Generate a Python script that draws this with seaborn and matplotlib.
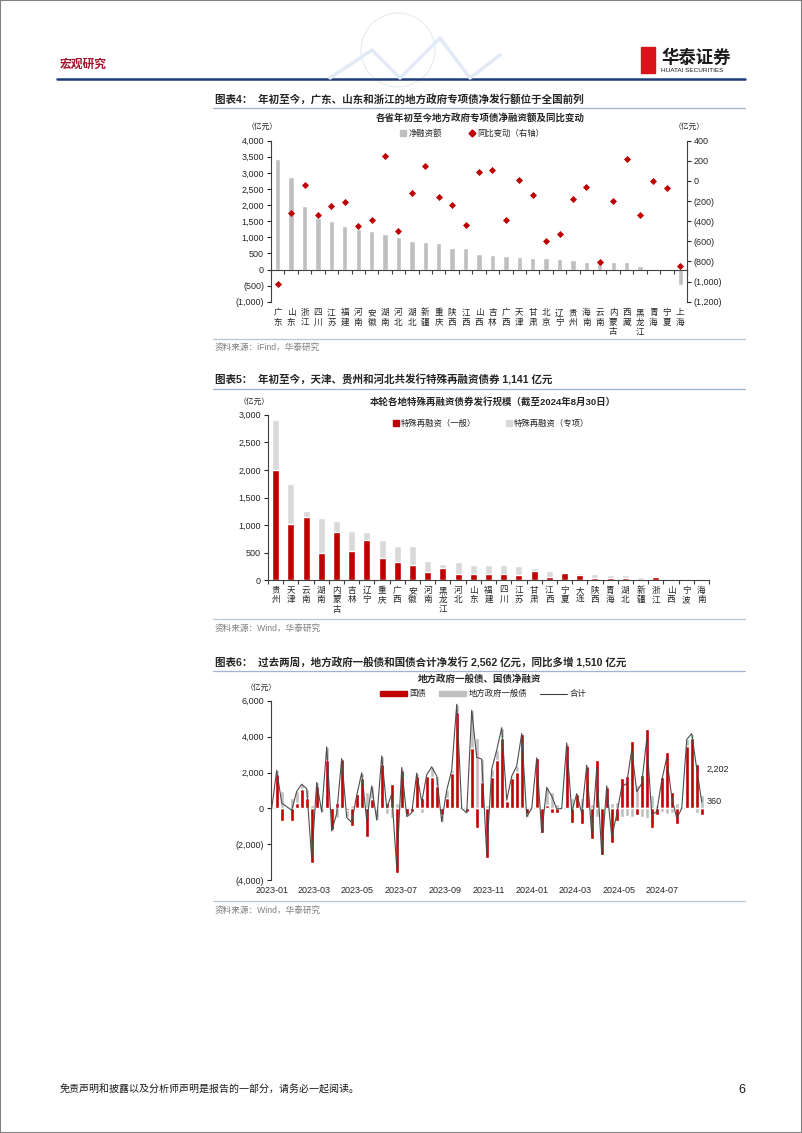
import numpy as np
import pandas as pd
import matplotlib
matplotlib.use('Agg')
import matplotlib.pyplot as plt
import matplotlib.dates as mdates
import seaborn as sns
from matplotlib.lines import Line2D
from matplotlib.patches import Rectangle, Patch, Ellipse
from matplotlib.ticker import FuncFormatter, MultipleLocator

# 图表4 数据：各省年初至今专项债净融资额（亿元）及同比变动
provinces1 = ['广东', '山东', '浙江', '四川', '江苏', '福建', '河南', '安徽', '湖南', '河北',
              '湖北', '新疆', '重庆', '陕西', '江西', '山西', '吉林', '广西', '天津', '甘肃',
              '北京', '辽宁', '贵州', '海南', '云南', '内蒙古', '西藏', '黑龙江', '青海', '宁夏', '上海']
net1 = [3420, 2880, 1970, 1600, 1500, 1350, 1265, 1190, 1110, 1015,
        880, 860, 808, 675, 663, 466, 445, 425, 375, 365,
        350, 330, 290, 240, 235, 228, 222, 124, 25, 10, -477]
yoy1 = [-1020, -318, -43, -334, -252, -209, -444, -384, 248, -500,
        -122, 152, -156, -235, -437, 86, 106, -391, 13, -142,
        -600, -523, -175, -63, -808, -195, 215, -341, -3, -66, -848]

# 图表5 数据：特殊再融资债券发行规模（亿元）
provinces2 = ['贵州', '天津', '云南', '湖南', '内蒙古', '吉林', '辽宁', '重庆', '广西', '安徽',
              '河南', '黑龙江', '河北', '山东', '福建', '四川', '江苏', '甘肃', '江西', '宁夏',
              '大连', '陕西', '青海', '湖北', '新疆', '浙江', '山西', '宁波', '海南']
general2 = [1991, 1026, 1147, 495, 881, 531, 724, 410, 338, 272,
            145, 229, 115, 121, 121, 115, 103, 175, 60, 140,
            103, 36, 42, 36, 12, 60, 6, 5, 5]
special2 = [912, 724, 114, 627, 187, 362, 151, 320, 290, 356,
            205, 73, 217, 163, 163, 169, 163, 42, 103, 10,
            36, 79, 61, 61, 54, 6, 6, 7, 19]

# 图表6 数据：周度净融资（亿元），2023-01-06 起
week_start = '2023-01-06'
guo = [0, 1910, -700, 0, -700, 320, 1075, 600, -3020, 1260,
       0, 2710, -1200, 280, 2730, -100, -980, 830, 1700, -1600,
       500, -50, 2500, 330, 1340, -3580, 2150, -370, -200, 1820,
       600, 1780, 1725, 1240, -370, 600, 1985, 5380, 0, -200,
       3360, -1080, 1480, -2780, 1760, 2690, 3900, 430, 1700, 2040,
       4170, -330, 0, 2820, -1350, 190, -240, -280, 0, 3520,
       -800, 780, -870, 2350, -1720, 2710, -2600, 1170, -1910, -700,
       1670, 1820, 3750, -370, 1850, 4400, -1110, -370, 1760, 3130,
       890, -870, 0, 3470, 3950, 2480, -370]
local = [0, 220, 1000, 100, 600, 630, 275, 500, 220, 190,
         -200, 720, -50, -550, 50, -400, 200, -100, 290, 930,
         760, -600, 430, -300, -550, 280, 130, -80, -50, 150,
         -250, 100, 595, 560, -370, 420, 145, 420, 0, -50,
         2110, 3930, 1265, 220, 430, 560, 600, 30, 100, 330,
         0, -130, 0, 0, 0, 980, 930, 250, 0, 130,
         600, 50, 610, 60, 240, -460, 40, 90, 320, 370,
         -460, -430, -460, 1300, -460, -520, 740, 200, -200, -300,
         -250, 320, 0, 370, 220, -278, 730]
tick_months = ['2023-01', '2023-03', '2023-05', '2023-07', '2023-09', '2023-11',
               '2024-01', '2024-03', '2024-05', '2024-07']

RED = '#C00000'
GRAY = '#BFBFBF'
LIGHT = '#D9D9D9'
TXT = '#262626'

sns.set_theme(style='white')
plt.rcParams['font.family'] = ['Liberation Sans', 'Noto Sans CJK SC']
plt.rcParams['axes.unicode_minus'] = False
plt.rcParams['text.color'] = TXT

W, H = 802, 1133
fig = plt.figure(figsize=(W / 100, H / 100), dpi=100)


def px_ax(x0, y0, x1, y1):
    return fig.add_axes([x0 / W, 1 - y1 / H, (x1 - x0) / W, (y1 - y0) / H])


def txt(x, y, s, **kw):
    kw.setdefault('va', 'center')
    fig.text(x / W, 1 - y / H, s, **kw)


def hline(x0, x1, y, **kw):
    fig.add_artist(Line2D([x0 / W, x1 / W], [1 - y / H, 1 - y / H],
                          transform=fig.transFigure, **kw))


paren = FuncFormatter(lambda v, p: f'({abs(v):,.0f})' if v < 0 else f'{v:,.0f}')


def style_y(ax, side='left'):
    ax.tick_params(axis='y', which='major', length=3, width=0.8, direction='out',
                   labelsize=6.5, pad=2, colors=TXT, left=(side == 'left'),
                   right=(side == 'right'))
    ax.yaxis.set_major_formatter(paren)
    ax.set_ylabel('')


# ---------------- 页眉 ----------------
txt(60, 65, '宏观研究', fontsize=8.5, color='#A0162B', fontweight='bold')
hline(57, 745, 78.5, color='#1F3D7A', lw=1.8)
fig.add_artist(Ellipse((398 / W, 1 - 50 / H), 74 / W, 74 / H, transform=fig.transFigure,
                       fill=False, edgecolor='#E6EAF0', lw=0.8))
fig.add_artist(Line2D(np.array([330, 372, 400, 440, 470, 500]) / W,
                      1 - np.array([78, 50, 78, 38, 78, 55]) / H,
                      transform=fig.transFigure, color='#E1EAF5', lw=2.5))
fig.add_artist(Rectangle((641 / W, 1 - 73 / H), 14 / W, 26 / H, transform=fig.transFigure,
                         color='#D7141A'))
txt(661, 57, '华泰证券', fontsize=12.5, fontweight='bold', color='#1A1A1A')
txt(661, 70.5, 'HUATAI SECURITIES', fontsize=4.6, color='#1A1A1A')

# ---------------- 图表4 ----------------
txt(215, 99, '图表4：  年初至今，广东、山东和浙江的地方政府专项债净发行额位于全国前列',
    fontsize=7.6, fontweight='bold')
hline(213, 745, 108, color='#9FB4CF', lw=0.9)
txt(480, 118, '各省年初至今地方政府专项债净融资额及同比变动', ha='center', fontsize=6.8,
    fontweight='bold')
txt(262, 127, '（亿元）', ha='center', fontsize=5.6)
txt(689, 127, '（亿元）', ha='center', fontsize=5.6)

df1 = pd.DataFrame({'省份': provinces1, '净融资额': net1, '同比变动': yoy1})
ax1 = px_ax(271, 140.7, 687, 301.7)
sns.barplot(data=df1, x='省份', y='净融资额', color=GRAY, width=0.4, saturation=1, ax=ax1)
ax1b = ax1.twinx()
sns.stripplot(data=df1, x='省份', y='同比变动', ax=ax1b, jitter=False, marker='D',
              color=RED, size=3.6, linewidth=0)
ax1.set_ylim(-1000, 4000)
ax1.yaxis.set_major_locator(MultipleLocator(500))
ax1b.set_ylim(-1200, 400)
ax1b.yaxis.set_major_locator(MultipleLocator(200))
style_y(ax1, 'left')
style_y(ax1b, 'right')
ax1.set_xlim(-0.5, len(provinces1) - 0.5)
for s in ['top', 'right']:
    ax1.spines[s].set_visible(False)
for s in ['top', 'left', 'bottom']:
    ax1b.spines[s].set_visible(False)
ax1.spines['bottom'].set_position(('data', 0))
for a, s in [(ax1, 'left'), (ax1, 'bottom'), (ax1b, 'right')]:
    a.spines[s].set_color('#404040')
    a.spines[s].set_linewidth(0.8)
ax1.set_xticks(range(len(provinces1)))
ax1.set_xticklabels(['\n'.join(p) for p in provinces1])
ax1.set_xticks(np.arange(len(provinces1) + 1) - 0.5, minor=True)
ax1.tick_params(axis='x', which='major', length=0, pad=28, labelsize=6.2, colors=TXT)
ax1.tick_params(axis='x', which='minor', length=3, width=0.8, bottom=True, color='#404040')
for t in ax1.get_xticklabels():
    t.set_linespacing(1.05)
ax1.set_xlabel('')
ax1.legend(handles=[Line2D([], [], marker='s', color=GRAY, ls='none', markersize=4),
                    Line2D([], [], marker='D', color=RED, ls='none', markersize=3.5)],
           labels=['净融资额', '同比变动（右轴）'], loc='center',
           bbox_to_anchor=(472 / W, 1 - 134 / H), bbox_transform=fig.transFigure, ncol=2,
           frameon=False, fontsize=6, handlelength=0.8, handletextpad=0.2, columnspacing=3.2)
hline(213, 745, 339, color='#B8C7D9', lw=0.9)
txt(215, 347, '资料来源：iFind，华泰研究', fontsize=6.2, color='#7F7F7F')

# ---------------- 图表5 ----------------
txt(215, 380, '图表5：  年初至今，天津、贵州和河北共发行特殊再融资债券 1,141 亿元',
    fontsize=7.6, fontweight='bold')
hline(213, 745, 389, color='#9FB4CF', lw=0.9)
txt(493, 401.5, '本轮各地特殊再融资债券发行规模（截至2024年8月30日）', ha='center',
    fontsize=6.8, fontweight='bold')
txt(254, 402, '（亿元）', ha='center', fontsize=5.6)

df2 = pd.DataFrame({'地区': provinces2, '一般': general2, '专项': special2})
df2['合计'] = df2['一般'] + df2['专项']
ax2 = px_ax(268, 414.7, 709, 580.3)
sns.barplot(data=df2, x='地区', y='合计', color=LIGHT, width=0.46, saturation=1, ax=ax2)
sns.barplot(data=df2, x='地区', y='一般', color=RED, width=0.46, saturation=1, ax=ax2)
ax2.set_ylim(0, 3000)
ax2.yaxis.set_major_locator(MultipleLocator(500))
style_y(ax2, 'left')
ax2.set_xlim(-0.5, len(provinces2) - 0.5)
for s in ['top', 'right']:
    ax2.spines[s].set_visible(False)
for s in ['left', 'bottom']:
    ax2.spines[s].set_color('#404040')
    ax2.spines[s].set_linewidth(0.8)
ax2.set_xticks(range(len(provinces2)))
ax2.set_xticklabels(['\n'.join(p) for p in provinces2])
ax2.set_xticks(np.arange(len(provinces2) + 1) - 0.5, minor=True)
ax2.tick_params(axis='x', which='major', length=0, pad=4, labelsize=6.2, colors=TXT)
ax2.tick_params(axis='x', which='minor', length=3, width=0.8, bottom=True, color='#404040')
for t in ax2.get_xticklabels():
    t.set_linespacing(1.05)
ax2.set_xlabel('')
ax2.legend(handles=[Line2D([], [], marker='s', color=RED, ls='none', markersize=4),
                    Line2D([], [], marker='s', color=LIGHT, ls='none', markersize=4)],
           labels=['特殊再融资（一般）', '特殊再融资（专项）'], loc='center',
           bbox_to_anchor=(491 / W, 1 - 424 / H), bbox_transform=fig.transFigure, ncol=2,
           frameon=False, fontsize=6, handlelength=0.8, handletextpad=0.2, columnspacing=3.5)
hline(213, 745, 619, color='#B8C7D9', lw=0.9)
txt(215, 628, '资料来源：Wind，华泰研究', fontsize=6.2, color='#7F7F7F')

# ---------------- 图表6 ----------------
txt(215, 663, '图表6：  过去两周，地方政府一般债和国债合计净发行 2,562 亿元，同比多增 1,510 亿元',
    fontsize=7.6, fontweight='bold')
hline(213, 745, 671, color='#9FB4CF', lw=0.9)
txt(479, 679, '地方政府一般债、国债净融资', ha='center', fontsize=6.8, fontweight='bold')
txt(261, 688, '（亿元）', ha='center', fontsize=5.6)

dates = pd.date_range(week_start, periods=len(guo), freq='7D')
guo_a = np.array(guo)
local_a = np.array(local)
total = guo_a + local_a
local_bottom = np.where(np.sign(local_a) == np.sign(guo_a), guo_a, 0)

ax3 = px_ax(271, 700.7, 704.6, 880.3)
ax3.bar(dates, guo_a, width=5.4, color=RED, zorder=2)
ax3.bar(dates, local_a, bottom=local_bottom, width=5.4, color=GRAY, zorder=2)
sns.lineplot(x=dates, y=total, ax=ax3, color='#4D4D4D', lw=0.8, zorder=3)
ax3.axhline(0, color='#404040', lw=0.8, zorder=1)
ax3.set_ylim(-4000, 6000)
ax3.yaxis.set_major_locator(MultipleLocator(2000))
style_y(ax3, 'left')
ax3.set_xlim(pd.Timestamp('2023-01-05'), pd.Timestamp('2024-09-03'))
ax3.set_xticks([pd.Timestamp(m + '-06') for m in tick_months])
ax3.xaxis.set_major_formatter(mdates.DateFormatter('%Y-%m'))
ax3.tick_params(axis='x', length=0, pad=4, labelsize=6.5, colors=TXT)
for s in ['top', 'right', 'bottom']:
    ax3.spines[s].set_visible(False)
ax3.spines['left'].set_color('#404040')
ax3.spines['left'].set_linewidth(0.8)
ax3.set_xlabel('')
for val in total[-2:]:
    ax3.annotate(f'{val:,.0f}', xy=(dates[-1], val), xytext=(3.5, 0),
                 textcoords='offset points', va='center', ha='left', fontsize=6.5,
                 color=TXT, annotation_clip=False)
ax3.legend(handles=[Patch(color=RED), Patch(color=GRAY),
                    Line2D([], [], color='#404040', lw=0.8)],
           labels=['国债', '地方政府一般债', '合计'], loc='center',
           bbox_to_anchor=(483 / W, 1 - 694 / H), bbox_transform=fig.transFigure, ncol=3,
           frameon=False, fontsize=6, handlelength=3.2, handleheight=0.55,
           handletextpad=0.3, columnspacing=1.6)
hline(213, 745, 901, color='#B8C7D9', lw=0.9)
txt(215, 910, '资料来源：Wind，华泰研究', fontsize=6.2, color='#7F7F7F')

# ---------------- 页脚 ----------------
txt(60, 1090, '免责声明和披露以及分析师声明是报告的一部分，请务必一起阅读。', fontsize=7.2,
    color='#1A1A1A')
txt(745, 1090, '6', ha='right', fontsize=9, color='#1A1A1A')
fig.add_artist(Rectangle((0, 0), 1, 1, transform=fig.transFigure, fill=False,
                         edgecolor='#808080', lw=1.5))

fig.savefig('out.png', dpi=100)
